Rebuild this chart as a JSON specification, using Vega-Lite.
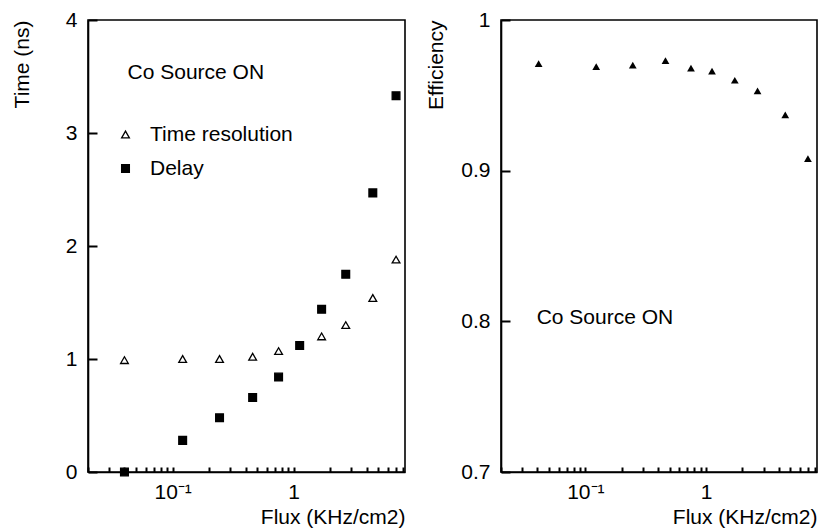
{
  "$schema": "https://vega.github.io/schema/vega-lite/v6.json",
  "padding": {"left": 10, "top": 8, "right": 0, "bottom": 0},
  "background": "white",
  "config": {
    "font": "Liberation Sans",
    "view": {"stroke": "black", "strokeWidth": 1.6},
    "concat": {"spacing": 19},
    "axis": {
      "grid": false,
      "domainColor": "black",
      "domainWidth": 1.6,
      "tickColor": "black",
      "tickWidth": 2,
      "labelColor": "black",
      "titleColor": "black",
      "labelFont": "Liberation Sans",
      "titleFont": "Liberation Sans",
      "labelFontSize": 21,
      "titleFontSize": 21,
      "titleFontWeight": "normal"
    }
  },
  "datasets": {
    "time": [
      {"flux": 0.040, "value": 0.99, "series": "Time resolution"},
      {"flux": 0.121, "value": 1.00, "series": "Time resolution"},
      {"flux": 0.244, "value": 1.00, "series": "Time resolution"},
      {"flux": 0.458, "value": 1.02, "series": "Time resolution"},
      {"flux": 0.75, "value": 1.07, "series": "Time resolution"},
      {"flux": 1.70, "value": 1.20, "series": "Time resolution"},
      {"flux": 2.69, "value": 1.30, "series": "Time resolution"},
      {"flux": 4.5, "value": 1.54, "series": "Time resolution"},
      {"flux": 7.0, "value": 1.88, "series": "Time resolution"},
      {"flux": 0.040, "value": 0.00, "series": "Delay"},
      {"flux": 0.121, "value": 0.28, "series": "Delay"},
      {"flux": 0.244, "value": 0.48, "series": "Delay"},
      {"flux": 0.458, "value": 0.66, "series": "Delay"},
      {"flux": 0.75, "value": 0.84, "series": "Delay"},
      {"flux": 1.12, "value": 1.12, "series": "Delay"},
      {"flux": 1.70, "value": 1.44, "series": "Delay"},
      {"flux": 2.69, "value": 1.75, "series": "Delay"},
      {"flux": 4.5, "value": 2.47, "series": "Delay"},
      {"flux": 7.0, "value": 3.33, "series": "Delay"}
    ],
    "note1": [
      {"flux": 0.0424, "value": 3.53, "label": "Co Source ON"}
    ],
    "eff": [
      {"flux": 0.041, "eff": 0.971},
      {"flux": 0.123, "eff": 0.969},
      {"flux": 0.247, "eff": 0.970},
      {"flux": 0.461, "eff": 0.973},
      {"flux": 0.75, "eff": 0.968},
      {"flux": 1.12, "eff": 0.966},
      {"flux": 1.73, "eff": 0.960},
      {"flux": 2.67, "eff": 0.953},
      {"flux": 4.53, "eff": 0.937},
      {"flux": 6.98, "eff": 0.908}
    ],
    "note2": [
      {"flux": 0.0395, "eff": 0.802, "label": "Co Source ON"}
    ]
  },
  "hconcat": [
    {
      "width": 317,
      "height": 452,
      "layer": [
        {
          "data": {"name": "time"},
          "mark": {"type": "point", "filled": true, "strokeWidth": 1.3, "opacity": 1, "size": 60},
          "encoding": {
            "x": {
              "field": "flux", "type": "quantitative",
              "scale": {"type": "log", "domain": [0.02, 8.3], "nice": false},
              "axis": {
                "title": "Flux (KHz/cm2)",
                "titleAnchor": "end",
                "titlePadding": 4,
                "values": [0.02, 0.03, 0.04, 0.05, 0.06, 0.07, 0.08, 0.09, 0.1, 0.2, 0.3, 0.4, 0.5, 0.6, 0.7, 0.8, 0.9, 1, 2, 3, 4, 5, 6, 7, 8],
                "labelExpr": "datum.value === 0.1 ? '10⁻¹' : (datum.value === 1 ? '1' : '')",
                "ticks": true,
                "tickSize": -5,
                "labelPadding": 14,
                "labelFlush": false,
                "labelOverlap": false
              }
            },
            "y": {
              "field": "value", "type": "quantitative",
              "scale": {"domain": [0, 4], "nice": false},
              "axis": {
                "title": "Time (ns)",
                "titleAnchor": "end",
                "titlePadding": 33,
                "values": [0, 1, 2, 3, 4],
                "format": "~g",
                "ticks": true,
                "tickSize": -9,
                "labelPadding": 20,
                "labelFlush": false
              }
            },
            "shape": {
              "field": "series", "type": "nominal",
              "scale": {"domain": ["Time resolution", "Delay"], "range": ["triangle-up", "square"]},
              "legend": {
                "title": null,
                "orient": "none",
                "legendX": 27,
                "legendY": 104,
                "padding": 0,
                "labelFontSize": 21,
                "labelColor": "black",
                "labelOffset": 14,
                "rowPadding": 12,
                "symbolSize": 60,
                "symbolStrokeWidth": 1.3
              }
            },
            "fill": {
              "field": "series", "type": "nominal",
              "scale": {"domain": ["Time resolution", "Delay"], "range": ["white", "black"]}
            },
            "stroke": {
              "field": "series", "type": "nominal",
              "scale": {"domain": ["Time resolution", "Delay"], "range": ["black", "black"]}
            }
          }
        },
        {
          "data": {"name": "note1"},
          "mark": {"type": "text", "align": "left", "baseline": "middle", "fontSize": 21, "font": "Liberation Sans", "color": "black"},
          "encoding": {
            "x": {"field": "flux", "type": "quantitative"},
            "y": {"field": "value", "type": "quantitative"},
            "text": {"field": "label"}
          }
        }
      ]
    },
    {
      "width": 316,
      "height": 452,
      "layer": [
        {
          "data": {"name": "eff"},
          "mark": {"type": "point", "shape": "triangle-up", "filled": true, "color": "black", "opacity": 1, "size": 60},
          "encoding": {
            "x": {
              "field": "flux", "type": "quantitative",
              "scale": {"type": "log", "domain": [0.02, 8.3], "nice": false},
              "axis": {
                "title": "Flux (KHz/cm2)",
                "titleAnchor": "end",
                "titlePadding": 4,
                "values": [0.02, 0.03, 0.04, 0.05, 0.06, 0.07, 0.08, 0.09, 0.1, 0.2, 0.3, 0.4, 0.5, 0.6, 0.7, 0.8, 0.9, 1, 2, 3, 4, 5, 6, 7, 8],
                "labelExpr": "datum.value === 0.1 ? '10⁻¹' : (datum.value === 1 ? '1' : '')",
                "ticks": true,
                "tickSize": -5,
                "labelPadding": 14,
                "labelFlush": false,
                "labelOverlap": false
              }
            },
            "y": {
              "field": "eff", "type": "quantitative",
              "scale": {"domain": [0.7, 1], "nice": false, "zero": false},
              "axis": {
                "title": "Efficiency",
                "titleAnchor": "end",
                "titlePadding": 14,
                "values": [0.7, 0.8, 0.9, 1],
                "format": "~g",
                "ticks": true,
                "tickSize": -9,
                "labelPadding": 20,
                "labelFlush": false
              }
            }
          }
        },
        {
          "data": {"name": "note2"},
          "mark": {"type": "text", "align": "left", "baseline": "middle", "fontSize": 21, "font": "Liberation Sans", "color": "black"},
          "encoding": {
            "x": {"field": "flux", "type": "quantitative"},
            "y": {"field": "eff", "type": "quantitative"},
            "text": {"field": "label"}
          }
        }
      ]
    }
  ]
}
